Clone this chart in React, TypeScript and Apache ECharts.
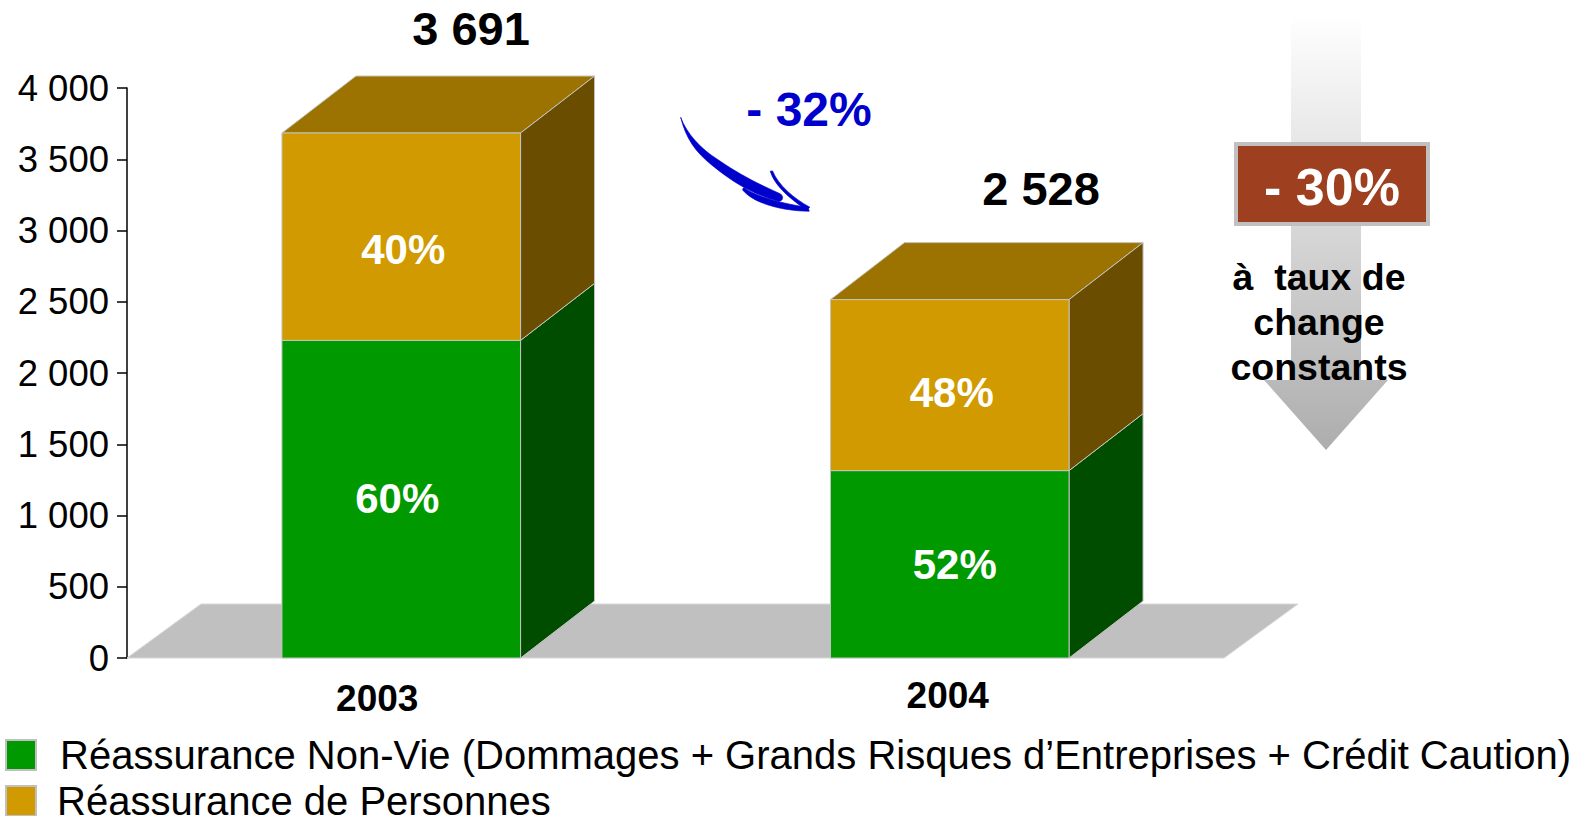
import React, { useEffect, useRef } from "react";
import * as echarts from "echarts";

const years = ["2003", "2004"];
const nonVie = [2229, 1315];
const personnes = [1455, 1200];
const nonViePct = ["60%", "52%"];
const personnesPct = ["40%", "48%"];
const totals = ["3 691", "2 528"];
const tickLabels = ["0", "500", "1 000", "1 500", "2 000", "2 500", "3 000", "3 500", "4 000"];
const nameNonVie = "Réassurance Non-Vie (Dommages + Grands Risques d’Entreprises + Crédit Caution)";
const namePers = "Réassurance de Personnes";

const FONT = '"Liberation Sans", Arial, sans-serif';
const DX = 74;
const DY = -57;
const FLOOR_DY = -54;
const EDGE = "#c4c4c4";

const ARROW_D =
  "M62 142 C80 190 120 235 172 268 C235 312 300 345 362 372 C372 380 370 394 356 394 C262 368 205 325 155 285 C105 245 78 205 62 142 Z " +
  "M250 354 L254 354 C285 378 370 403 445 412 L448 424 C380 424 285 405 248 360 Z " +
  "M331 304 L338 303 C355 345 400 385 450 412 L440 420 C395 390 345 350 331 304 Z";

echarts.graphic.registerShape("handArrow", echarts.graphic.extendPath(ARROW_D, {}));

function cuboid(
  name: string,
  lows: number[],
  highs: number[],
  front: string,
  side: string,
  top: string,
  labels: string[],
  labelShift: number[][],
  z: number
) {
  return {
    type: "custom",
    name,
    z,
    itemStyle: { color: front },
    data: years.map((_, i) => [i, lows[i], highs[i]]),
    encode: { x: 0, y: [1, 2] },
    clip: false,
    renderItem: (params: any, api: any) => {
      const i = api.value(0);
      const band = api.size([1, 0])[0];
      const w = band * 0.435;
      const [cx, y0] = api.coord([i, api.value(1)]);
      const [, y1] = api.coord([i, api.value(2)]);
      const l = cx - w / 2;
      const r = cx + w / 2;
      const stroke = { stroke: EDGE, lineWidth: 1 };
      return {
        type: "group",
        children: [
          {
            type: "polygon",
            shape: { points: [[l, y1], [r, y1], [r + DX, y1 + DY], [l + DX, y1 + DY]] },
            style: { fill: top, ...stroke },
          },
          {
            type: "polygon",
            shape: { points: [[r, y0], [r + DX, y0 + DY], [r + DX, y1 + DY], [r, y1]] },
            style: { fill: side, ...stroke },
          },
          {
            type: "polygon",
            shape: { points: [[l, y0], [r, y0], [r, y1], [l, y1]] },
            style: { fill: front, ...stroke },
          },
          {
            type: "text",
            x: cx + labelShift[i][0],
            y: (y0 + y1) / 2 + labelShift[i][1],
            style: {
              text: labels[i],
              fill: "#fff",
              font: `bold 42px ${FONT}`,
              textAlign: "center",
              textVerticalAlign: "middle",
            },
          },
        ],
      };
    },
  };
}

function gt(text: string, x: number, y: number, size: number, fill: string) {
  return {
    type: "text",
    x,
    y,
    z: 20,
    style: { text, fill, font: `bold ${size}px ${FONT}`, textAlign: "center", textVerticalAlign: "middle" },
  };
}

export default function App() {
  const ref = useRef<HTMLDivElement>(null);
  useEffect(() => {
    document.body.style.margin = "0";
    const chart = echarts.init(ref.current!, undefined, { renderer: "svg" });
    const legendBase = {
      orient: "vertical",
      itemWidth: 30,
      itemHeight: 30,
      padding: 0,
      selectedMode: false,
      icon: "rect",
      itemStyle: { borderColor: "#c0c0c0", borderWidth: 2 },
      textStyle: { fontFamily: FONT, fontSize: 40, color: "#000" },
    };
    chart.setOption({
      animation: false,
      backgroundColor: "#fff",
      grid: { left: 127, top: 88, width: 1097, height: 570, containLabel: false },
      xAxis: {
        type: "category",
        data: years,
        axisLine: { show: false },
        axisTick: { show: false },
        axisLabel: {
          margin: 19,
          formatter: (v: string) => (v === "2003" ? `{a|${v}}` : `{b|${v}}`),
          rich: {
            a: { fontFamily: FONT, fontSize: 37, fontWeight: "bold", color: "#000", padding: [3, 48, 0, 0] },
            b: { fontFamily: FONT, fontSize: 37, fontWeight: "bold", color: "#000", padding: [0, 4, 0, 0] },
          },
        },
      },
      yAxis: {
        type: "value",
        min: 0,
        max: 4000,
        interval: 500,
        splitLine: { show: false },
        axisLine: { show: true, lineStyle: { color: "#000", width: 1.5 } },
        axisTick: { show: true, length: 10, lineStyle: { color: "#000", width: 1.5 } },
        axisLabel: {
          margin: 18,
          color: "#000",
          fontFamily: FONT,
          fontSize: 36.5,
          formatter: (v: number) => tickLabels[v / 500],
        },
      },
      legend: [
        { ...legendBase, data: [nameNonVie], left: 5, top: 735, textStyle: { ...legendBase.textStyle, padding: [0, 0, 0, 19] } },
        { ...legendBase, data: [namePers], left: 5, top: 781, textStyle: { ...legendBase.textStyle, padding: [0, 0, 0, 16] } },
      ],
      series: [
        {
          type: "custom",
          z: 1,
          silent: true,
          clip: false,
          data: [[0, 0]],
          encode: { x: 0, y: 1 },
          renderItem: (params: any) => {
            const c = params.coordSys;
            const b = c.y + c.height;
            return {
              type: "polygon",
              shape: {
                points: [
                  [c.x, b],
                  [c.x + c.width, b],
                  [c.x + c.width + DX, b + FLOOR_DY],
                  [c.x + DX, b + FLOOR_DY],
                ],
              },
              style: { fill: "#c0c0c0", stroke: "#d8d8d8", lineWidth: 1 },
            };
          },
        },
        cuboid(
          nameNonVie,
          [0, 0],
          nonVie,
          "#009900",
          "#004d00",
          "#007300",
          nonViePct,
          [
            [-4, -1],
            [5, 0],
          ],
          2
        ),
        cuboid(
          namePers,
          nonVie,
          nonVie.map((v, i) => v + personnes[i]),
          "#d09a00",
          "#6b4d00",
          "#9c7300",
          personnesPct,
          [
            [2, 13],
            [2, 7],
          ],
          3
        ),
      ],
      graphic: [
        gt(totals[0], 471, 28, 47, "#000"),
        gt(totals[1], 1041, 188, 47, "#000"),
        gt("- 32%", 809, 109, 48, "#0000cc"),
        {
          type: "polygon",
          z: 10,
          shape: {
            points: [
              [1291, 15],
              [1361, 15],
              [1361, 380],
              [1388, 380],
              [1326, 450],
              [1264, 380],
              [1291, 380],
            ],
          },
          style: {
            fill: new echarts.graphic.LinearGradient(0, 0, 0, 1, [
              { offset: 0, color: "#ffffff" },
              { offset: 1, color: "#adadad" },
            ]),
          },
        },
        {
          type: "rect",
          z: 11,
          shape: { x: 1236, y: 144, width: 192, height: 80 },
          style: { fill: "#9e4020", stroke: "#c0c0c0", lineWidth: 4 },
        },
        gt("- 30%", 1332, 187, 52, "#fff"),
        gt("à  taux de", 1319, 277, 37.5, "#000"),
        gt("change", 1319, 322, 37.5, "#000"),
        gt("constants", 1319, 367, 37.5, "#000"),
        {
          type: "handArrow",
          x: 660,
          y: 70,
          scaleX: 1 / 3,
          scaleY: 1 / 3,
          z: 12,
          style: { fill: "#0000cc", stroke: "#0000cc", lineWidth: 2 },
        },
      ],
    });
    return () => chart.dispose();
  }, []);
  return <div ref={ref} style={{ position: "absolute", left: 0, top: 0, width: 1585, height: 816 }} />;
}
